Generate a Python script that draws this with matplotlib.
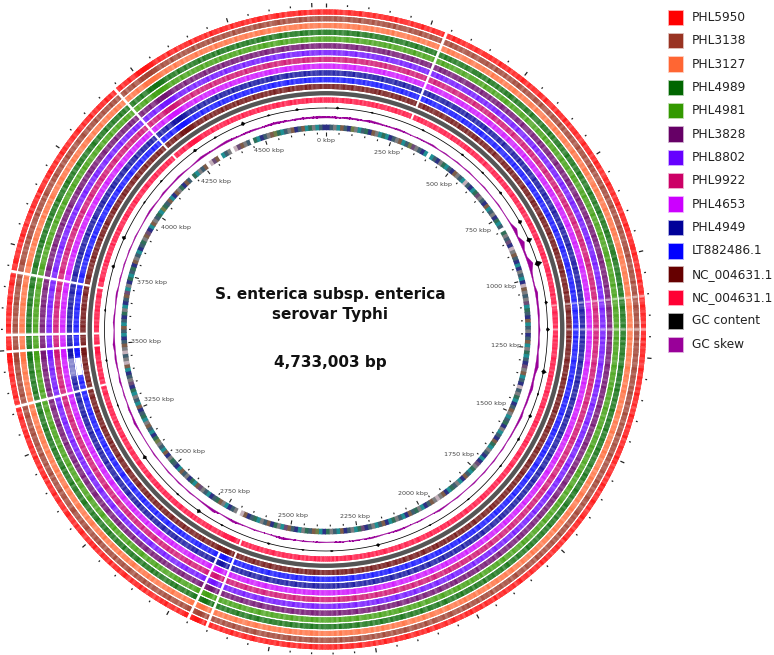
import numpy as np
import matplotlib
matplotlib.use('Agg')
import matplotlib.pyplot as plt
from matplotlib.colors import to_rgb
from matplotlib.patches import Rectangle

genome_kbp = 4733.003

names = ['PHL5950', 'PHL3138', 'PHL3127', 'PHL4989', 'PHL4981', 'PHL3828', 'PHL8802',
         'PHL9922', 'PHL4653', 'PHL4949', 'LT882486.1', 'NC_004631.1', 'NC_004631.1',
         'GC content', 'GC skew']
colors = ['#ff0000', '#993322', '#ff6633', '#006600', '#339900', '#660066', '#6600ff',
          '#cc0066', '#cc00ff', '#000099', '#0000ff', '#660000', '#ff0033',
          '#000000', '#990099']

# blast identity shading per half degree, 0 = full colour, 9 = pale
shade = ("435253642534164352635342516344"
         "625341536243526351425364352463"
         "342536143526352413625345236145"
         "536243515263425364153426351426"
         "364251435263415362435142536342"
         "251436352435163425364135243625"
         "435162534253641352436251435263"
         "514362534163524351426354263514"
         "263541352643152436253416352436"
         "352416354263451362435243615342"
         "624351426354136245326415352463"
         "143526341536253461352435162534"
         "536241435263514362534253641352"
         "463514352635241620012113526345"
         "142536436251435264135243615342"
         "635142536413526354126345236145"
         "352614362534163524351426354136"
         "245361435263415342010112435263"
         "415362435142635413526345124536"
         "362514352643516243526134536241"
         "435263514253642531462534163524"
         "351426354263415520100011352436"
         "145263534162435261435243615342"
         "536241352643152634351426354263")

# gaps in the rings, degrees clockwise from 0 kbp
gap_angles = [22.1, 201.9, 256, 266, 269, 280.5, 318.7]
short_gap_angles = [205.5]
pale_angles = [84, 90]
blue_blank = [259.5, 263.5]

# annotated genes, one letter per degree, blank = no gene
genes = ("nsgtbsnogtsdnbgtdtnsgbtsopgsnt"
         " tsngdtsnbgstlsntdpgsnbtsgndts"
         " dgspnlgbsntngstnlbgsgptdsnbts"
         "gnsbtgdtsnpgbtsnlsgdtnsbgtsdng"
         "tsnbdtgsntnpgdtsbntgsdtnbglgbs"
         "ntgdsbntsgdtnbstgsnpdtgsnbtsgd"
         "ntobsdgtnsbptgdnbsgtdsnbl gsnt"
         "gbdsntsgpbtdngsbtnsdgnbtsgodnt"
         "sbgtdsnbtsgtdnpgsntblgslgbsnts"
         "btsndgtnsbptgndtsdnbgstnsdgbpn"
         "tbgsdtodsbtnbgdnbs dtgsb lpb t"
         "sg lpbgs dtnsgbodtsgbnsbtdgtsn")
gene_colors = {'t': '#1f8f94', 'n': '#2c3084', 'g': '#7d7d80', 'b': '#7d5c48', 'o': '#6f7e48',
               's': '#3f5e70', 'l': '#c4b0ba', 'd': '#2f6f58', 'p': '#6c4c76', ' ': '#ffffff'}

# GC content spikes (angle in degrees, size)
gc_angle = [3, 52, 61, 66.2, 72.7, 83, 90, 101, 113, 119.7, 166.4, 178.5, 195, 215, 234.8,
            286.5, 294.4, 323.8, 338, 352.5,
            12, 26, 38, 45, 107, 128, 140, 152, 186, 208, 222, 250, 262, 275, 305, 312, 330, 345]
gc_size = [1.5, 1.5, 2.5, 3.5, 4.5, 1.8, 2.2, 3, 2, 1.5, 2, 1, 1.2, 2.5, 2.5,
           2, 2.5, 2, 2.5, 1.5,
           0.8, 1, 1.2, 1, 1, 1, 0.8, 0.8, 0.8, 1, 1, 0.8, 1, 1, 0.8, 1, 1, 1]

# GC skew every 2 degrees
skew = [2, 2, 1.5, 2, 2, 1.5, 2.5, 2, 1.5, 1.5, 2, 1.5, 1, 1.5, 1.5, 2, 1, 1.5, 1, 1.5, 1, 1.5, 1, 1, 1.5, 1, 1, 1.5, 1, 1,
        1.5, 4, 1.5, 5, 2, 2, 5.5, 2.5, 1.5, 1.5, 3, 2, 2, 2, 1.5, 2, 1.5, 2, 1.5, 2.5, 3.5, 2, 2, 3, 2, 2, 1.5, 2.5, 2, 1.5,
        1.5, 1, 1.5, 1, 1.5, 1, 1.5, 1, 1.5, 1, 1, 1.5, 1, 1.5, 2, 1, 1, 1.5, 1, 1.5, 2, 1.5, 1, 1.5, 2, 1, 1.5, 1, 1.5, 1,
        1, 1.5, 1, 1.5, 1, 1.5, 2.5, 1.5, 1, 1, 1.5, 1, 1.5, 2.5, 1.5, 1, 3, 2, 1.5, 1, 1.5, 1, 1.5, 1, 1.5, 1, 1, 1.5, 1, 1,
        1, 1.5, 2.5, 1.5, 2, 1, 1.5, 1, 2, 1, 1.5, 2, 1.5, 2.5, 1.5, 1, 2, 1.5, 1, 1.5, 2, 1, 1.5, 1, 1.5, 1, 1.5, 1, 1.5, 1,
        1, 1.5, 2, 1.5, 1, 2, 1.5, 1.5, 2, 1.5, 1, 1.5, 2.5, 2, 1.5, 2, 2.5, 2, 1.5, 2, 2, 1.5, 2, 2.5, 2, 1.5, 2, 2, 2, 2.5]

labels_kbp = np.arange(0, 4501, 250)
ticks_kbp = np.arange(0, 4701, 50)
tall_ticks = [4700]

title_lines = ['S. enterica subsp. enterica', 'serovar Typhi', '4,733,003 bp']


def deg(a):
    return np.radians(a)


def tint(c, amount):
    c = np.array(to_rgb(c))
    return tuple(c + (1 - c) * amount)


W, H = 774, 655
cx, cy = 326, 329.5
rmax = 330

fig = plt.figure(figsize=(W / 100, H / 100), dpi=100)
ax = fig.add_axes([(cx - rmax) / W, (H - cy - rmax) / H, 2 * rmax / W, 2 * rmax / H], projection='polar')
ax.set_theta_zero_location('N')
ax.set_theta_direction(-1)
ax.set_ylim(0, rmax)
ax.axis('off')

ring_w = 5.0
ring_step = 6.77
ring_idx = list(range(12)) + [13]   # slot 12 is the plain grey ring
sector = deg(360 / len(shade))
th = deg(np.arange(len(shade)) * 360 / len(shade))

for i, slot in zip(range(13), ring_idx):
    r_out = 320 - slot * ring_step
    # solid ring first so the stripes leave no seams
    ax.bar(0, ring_w, width=2 * np.pi, bottom=r_out - ring_w, align='edge', color=tint(colors[i], 0.22), linewidth=0)
    cols = [tint(colors[i], 0.08 + 0.042 * int(s)) for s in shade]
    ax.bar(th, ring_w, width=sector * 1.5, bottom=r_out - ring_w, align='edge', color=cols, linewidth=0)

# pale strips, the rings are washed out here
r_pink = 320 - 13 * ring_step - ring_w
for a in pale_angles:
    for slot in ring_idx:
        r_out = 320 - slot * ring_step
        ax.bar(deg(a), ring_w, width=deg(0.45), bottom=r_out - ring_w, color='white', alpha=0.5, linewidth=0)

# gaps
for a in gap_angles:
    ax.bar(deg(a), 321 - r_pink + 1, width=deg(0.5), bottom=r_pink - 0.5, color='white', linewidth=0)
for a in short_gap_angles:
    ax.bar(deg(a), 321 - 246, width=deg(0.5), bottom=246, color='white', linewidth=0)

r_blue = 320 - 10 * ring_step
ax.bar(deg(blue_blank[0]), ring_w + 0.5, width=deg(blue_blank[1] - blue_blank[0]), bottom=r_blue - ring_w - 0.2,
       align='edge', color='white', linewidth=0)
r_navy = 320 - 9 * ring_step
ax.bar(deg(blue_blank[0]), ring_w, width=deg(blue_blank[1] - blue_blank[0]), bottom=r_navy - ring_w,
       align='edge', color='white', alpha=0.45, linewidth=0)

# grey ring
r_grey = 320 - 12 * ring_step
ax.bar(0, ring_w - 0.6, width=2 * np.pi, bottom=r_grey - ring_w + 0.3, align='edge', color='#555555', linewidth=0)

# GC content
grid = deg(np.linspace(0, 360, 721))
ax.plot(grid, np.full(grid.shape, 221.5), color='black', lw=0.55)
for a, s in zip(gc_angle, gc_size):
    w = 0.3 + 0.1 * s
    ax.fill([deg(a - w), deg(a), deg(a + w), deg(a)], [221.5, 221.5 + s, 221.5, 221.5 - 0.6 * s],
            color='black', linewidth=0.3)

# GC skew
th_skew = deg(np.arange(len(skew) + 1) * 2)
skew_closed = np.array(skew + skew[:1])
ax.fill_between(th_skew, 212, 212 + (skew_closed - 0.4), color=colors[14], linewidth=0.2)

# genes
gene_th = deg(np.arange(len(genes)) * 360 / len(genes))
gene_cols = [gene_colors[g] for g in genes]
ax.bar(gene_th, 5.6, width=deg(360 / len(genes)) * 1.25, bottom=199.3, align='edge', color=gene_cols, linewidth=0)

# ticks
for k in ticks_kbp:
    a = 2 * np.pi * k / genome_kbp
    major = k % 250 == 0
    ax.plot([a, a], [322.5, 326.8] if (major or k in tall_ticks) else [323.2, 325], color='#222222', lw=0.9,
            solid_capstyle='butt')
    ax.plot([a, a], [194, 198] if major else [195.2, 197], color='#222222', lw=0.8, solid_capstyle='butt')

for k in labels_kbp:
    a = 2 * np.pi * k / genome_kbp
    ax.text(a, 180.5 + 9 * np.cos(a) ** 4, '%d kbp' % k, ha='center', va='center', fontsize=4.6, color='#444444')

# legend and centre text in pixel coordinates
ov = fig.add_axes([0, 0, 1, 1])
ov.set_xlim(0, W)
ov.set_ylim(H, 0)
ov.axis('off')
ov.patch.set_alpha(0)
for i, (n, c) in enumerate(zip(names, colors)):
    y = 17.3 + i * 23.35
    ov.add_patch(Rectangle((667.5, y - 7.7), 15.4, 15.4, facecolor=c, edgecolor=tint(c, 0.7), lw=0.6))
    ov.text(692, y, n, ha='left', va='center', fontsize=8.7, color='#222222')

ov.text(330.5, 295, title_lines[0], ha='center', va='center', fontsize=11, fontweight='bold', color='#111111')
ov.text(330.5, 315, title_lines[1], ha='center', va='center', fontsize=11, fontweight='bold', color='#111111')
ov.text(330.5, 363, title_lines[2], ha='center', va='center', fontsize=11, fontweight='bold', color='#111111')

fig.savefig('out.png', dpi=100)
